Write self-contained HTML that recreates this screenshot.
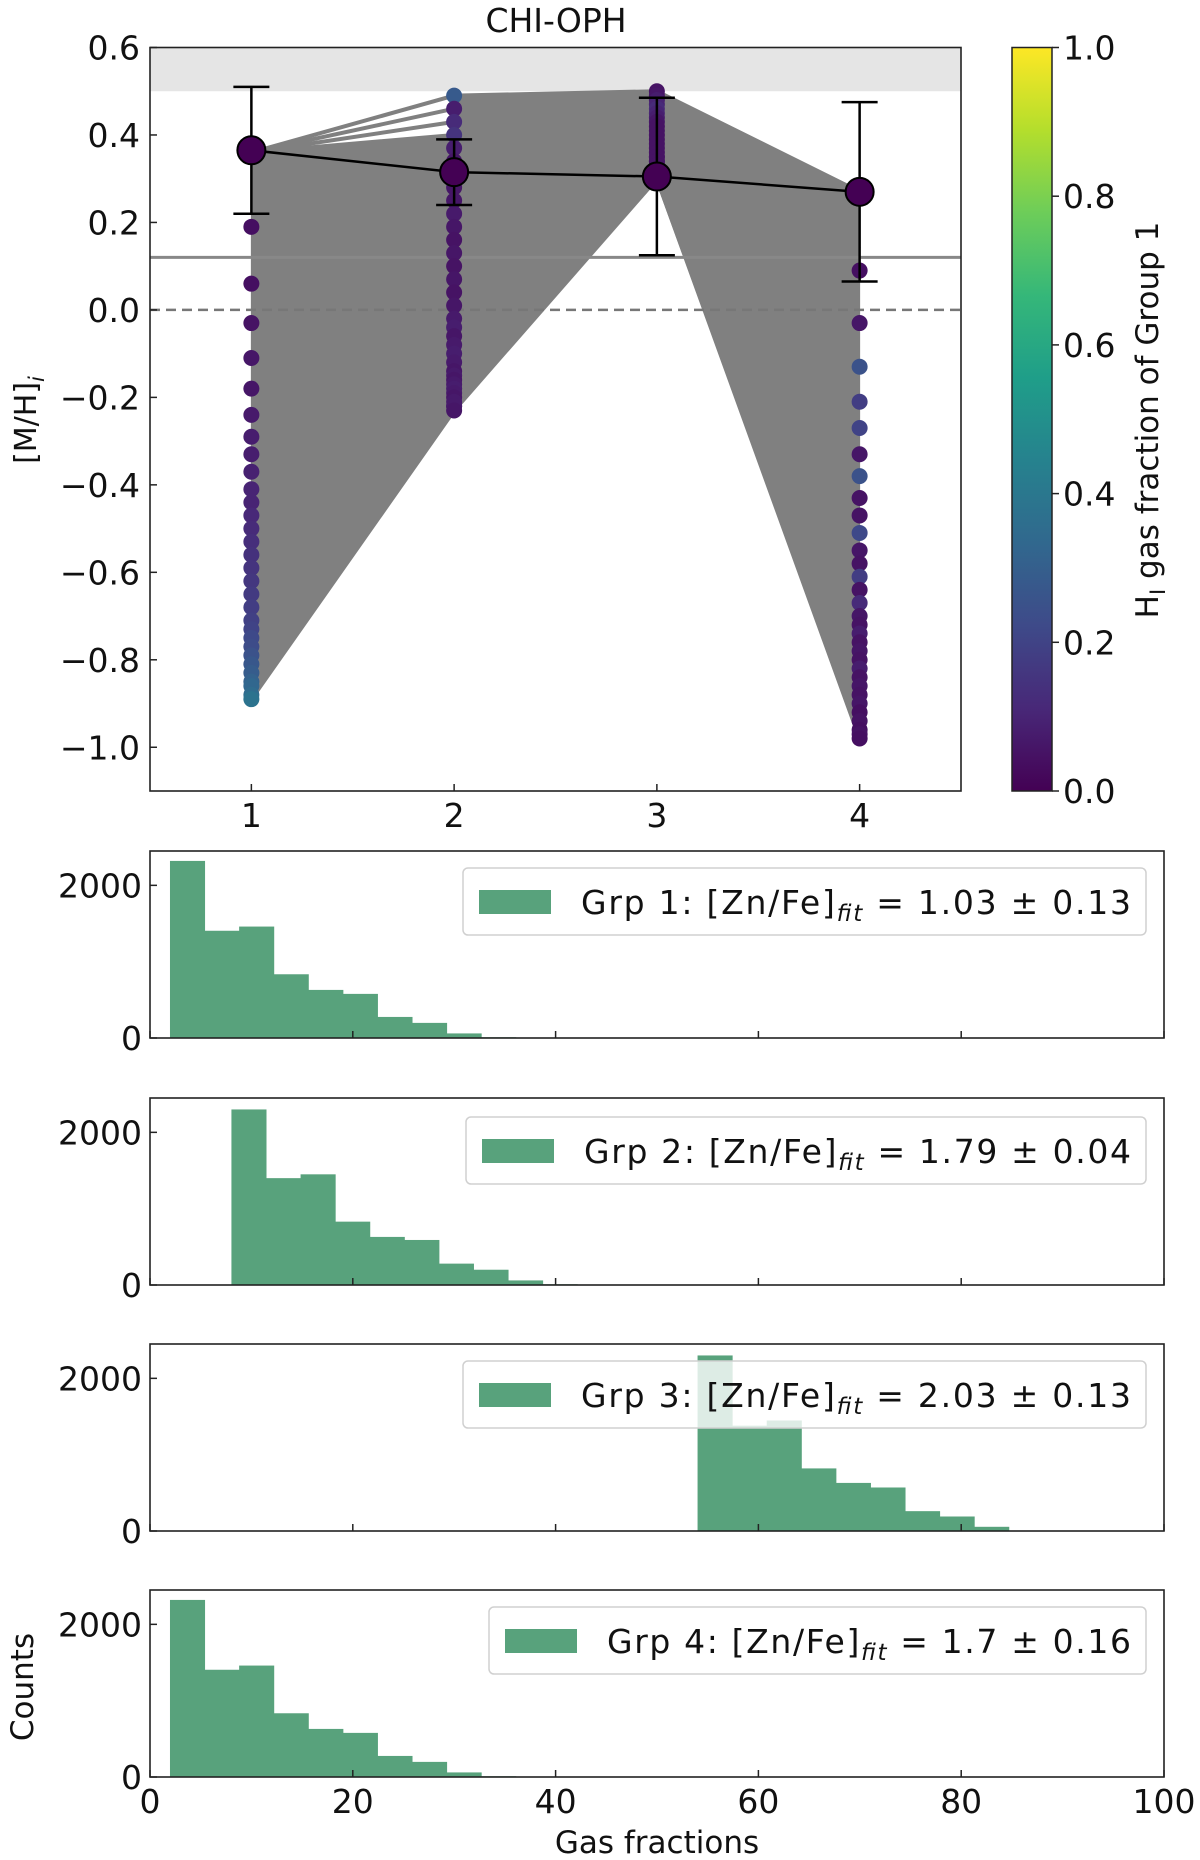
<!DOCTYPE html>
<html><head><meta charset="utf-8"><style>
html,body{margin:0;padding:0;background:#fff;}
svg{display:block;font-family:"DejaVu Sans","Liberation Sans",sans-serif;}
</style></head><body>
<svg id="fig" width="1200" height="1860" viewBox="0 0 1200 1860" xmlns="http://www.w3.org/2000/svg">
<g id="topPanel"></g>
<g id="cbar"></g>
<g id="hists"></g>
</svg>
<script>
// ---- top panel data ----
const col1Vals = [0.36,0.36,0.36,0.36,0.19,0.06,-0.03,-0.11,-0.18,-0.24,-0.29,-0.33,-0.37,-0.41,-0.44,-0.47,-0.50,-0.53,-0.56,-0.59,-0.62,-0.65,-0.68,-0.71,-0.73,-0.75,-0.77,-0.79,-0.81,-0.83,-0.85,-0.86,-0.88,-0.89];
const col2Vals = [0.49,0.46,0.43,0.40,0.37,0.34,0.31,0.28,0.25,0.22,0.19,0.16,0.13,0.10,0.07,0.04,0.01,-0.02,-0.04,-0.06,-0.08,-0.10,-0.12,-0.14,-0.15,-0.16,-0.17,-0.18,-0.19,-0.20,-0.21,-0.22,-0.22,-0.23];
const col3Vals = [0.50,0.49,0.48,0.47,0.46,0.45,0.44,0.43,0.42,0.41,0.40,0.39,0.38,0.37,0.36,0.35,0.35,0.34,0.34,0.33,0.33,0.33,0.32,0.32,0.32,0.31,0.31,0.31,0.31,0.30,0.30,0.30,0.30,0.30];
const col4Vals = [0.27,0.20,0.14,0.09,-0.03,-0.13,-0.21,-0.27,-0.33,-0.38,-0.43,-0.47,-0.51,-0.55,-0.58,-0.61,-0.64,-0.67,-0.70,-0.72,-0.74,-0.76,-0.78,-0.80,-0.82,-0.84,-0.86,-0.88,-0.90,-0.92,-0.94,-0.96,-0.97,-0.98];
const col1Frac = [0.05,0.05,0.05,0.05,0.04,0.04,0.05,0.06,0.06,0.07,0.08,0.08,0.09,0.10,0.10,0.11,0.12,0.13,0.14,0.15,0.16,0.17,0.18,0.19,0.20,0.22,0.23,0.25,0.27,0.29,0.31,0.33,0.35,0.38];
const col2Frac = [0.28,0.08,0.12,0.15,0.08,0.06,0.07,0.06,0.06,0.07,0.06,0.05,0.06,0.05,0.06,0.05,0.06,0.07,0.08,0.06,0.07,0.08,0.07,0.06,0.07,0.06,0.07,0.08,0.07,0.06,0.07,0.08,0.07,0.06];
const col3Frac = [0.05,0.06,0.08,0.10,0.12,0.10,0.08,0.06,0.05,0.05,0.05,0.05,0.05,0.05,0.05,0.05,0.05,0.05,0.05,0.05,0.05,0.05,0.05,0.05,0.05,0.05,0.05,0.05,0.05,0.05,0.05,0.05,0.05,0.05];
const col4Frac = [0.04,0.04,0.04,0.04,0.06,0.25,0.18,0.2,0.06,0.25,0.05,0.05,0.22,0.06,0.05,0.18,0.05,0.12,0.06,0.05,0.08,0.05,0.06,0.05,0.08,0.05,0.06,0.05,0.06,0.04,0.05,0.04,0.05,0.04];
const meanX = [1,2,3,4];
const meanY = [0.365,0.315,0.305,0.27];
const errLo = [0.22,0.24,0.125,0.065];
const errHi = [0.51,0.39,0.485,0.475];
const yTicks = [0.6,0.4,0.2,0.0,-0.2,-0.4,-0.6,-0.8,-1.0];
const xTicks = [1,2,3,4];
const cbTicks = [0.0,0.2,0.4,0.6,0.8,1.0];
// ---- histogram data ----
const binWidth = 3.41;
const grpStart = [1.97,8.03,54.0,1.97];
const grp1Counts = [2320,1405,1460,835,630,578,276,198,60,10];
const grp2Counts = [2300,1400,1450,830,630,590,280,200,60,10];
const grp3Counts = [2300,1380,1448,820,630,570,260,190,55];
const grp4Counts = [2320,1405,1460,835,630,578,276,198,60,10];
const grpLabels = ["Grp 1:","Grp 2:","Grp 3:","Grp 4:"];
const grpFit = ["= 1.03 ± 0.13","= 1.79 ± 0.04","= 2.03 ± 0.13","= 1.7 ± 0.16"];
const histXTicks = [0,20,40,60,80,100];
const histYTicks = [0,2000];

const NS="http://www.w3.org/2000/svg";
function mk(tag,attrs,parent){const e=document.createElementNS(NS,tag);for(const k in attrs)e.setAttribute(k,attrs[k]);parent.appendChild(e);return e;}
const viridis=[[68,1,84],[72,40,120],[62,74,137],[49,104,142],[38,130,142],[31,158,137],[53,183,121],[109,205,89],[180,222,44],[253,231,37]];
function vcol(t){t=Math.max(0,Math.min(1,t))*9;const i=Math.min(8,Math.floor(t)),f=t-i;const a=viridis[i],b=viridis[i+1];return `rgb(${Math.round(a[0]+(b[0]-a[0])*f)},${Math.round(a[1]+(b[1]-a[1])*f)},${Math.round(a[2]+(b[2]-a[2])*f)})`;}

// top axes
const L=150,R=961,T=47.5,B=791;
const X=v=>L+(v-0.5)/4*(R-L);
const Y=v=>T+(0.6-v)/1.7*(B-T);
const topG=document.getElementById('topPanel');
let e;
e=mk('rect',{x:L,y:Y(0.6),width:R-L,height:Y(0.5)-Y(0.6),fill:'#e5e5e5'},topG);

const cols=[col1Vals,col2Vals,col3Vals,col4Vals];
const fracs=[col1Frac,col2Frac,col3Frac,col4Frac];
const lines=mk('g',{},topG);

for(let j=0;j<3;j++){
  const start=(j===0)?3:0;
  for(let i=start;i<col1Vals.length-1;i++){
    const pts=[[X(j+1),Y(cols[j][i])],[X(j+2),Y(cols[j+1][i])],[X(j+2),Y(cols[j+1][i+1])],[X(j+1),Y(cols[j][i+1])]].map(p=>p.join(',')).join(' ');
    e=mk('polygon',{points:pts,fill:'#808080',stroke:'#808080','stroke-width':1},lines);
    
  }
}
for(let i=0;i<col1Vals.length;i++){
  const pts=cols.map((c,j)=>X(j+1)+','+Y(c[i])).join(' ');
  e=mk('polyline',{points:pts,fill:'none',stroke:'#808080','stroke-width':4,'stroke-linejoin':'round'},lines);
  
}
e=mk('line',{x1:L,x2:R,y1:Y(0.12),y2:Y(0.12),stroke:'#888','stroke-width':3},topG);

e=mk('line',{x1:L,x2:R,y1:Y(0),y2:Y(0),stroke:'#777','stroke-width':2.5,'stroke-dasharray':'10,6'},topG);

const dots=mk('g',{},topG);

for(let j=0;j<4;j++){for(let i=0;i<cols[j].length;i++){
  if(j===3 && i<3) continue;
  e=mk('circle',{cx:X(j+1),cy:Y(cols[j][i]),r:8,fill:vcol(fracs[j][i])},dots);
  
}}
for(let k=0;k<meanX.length;k++){
  const x=X(meanX[k]);
  e=mk('line',{x1:x,x2:x,y1:Y(errHi[k]),y2:Y(errLo[k]),stroke:'#000','stroke-width':2.5},topG);
  
  for(const v of [errHi[k],errLo[k]]){e=mk('line',{x1:x-18,x2:x+18,y1:Y(v),y2:Y(v),stroke:'#000','stroke-width':2.5},topG);
  }
}
e=mk('polyline',{points:meanX.map((v,k)=>X(v)+','+Y(meanY[k])).join(' '),fill:'none',stroke:'#000','stroke-width':2.5},topG);

for(let k=0;k<meanX.length;k++){
  e=mk('circle',{cx:X(meanX[k]),cy:Y(meanY[k]),r:14,fill:'#440154',stroke:'#000','stroke-width':2},topG);
  
}
e=mk('rect',{x:L,y:T,width:R-L,height:B-T,fill:'none',stroke:'#222','stroke-width':1.6},topG);

for(const v of yTicks){
  e=mk('line',{x1:L,x2:L+7,y1:Y(v),y2:Y(v),stroke:'#222','stroke-width':1.5},topG);
  
  e=mk('text',{x:L-10,y:Y(v)+12,'text-anchor':'end','font-size':33,fill:'#111'},topG);
  e.textContent=(v<0?'\u2212':'')+Math.abs(v).toFixed(1);
  
}
for(const v of xTicks){
  e=mk('line',{x1:X(v),x2:X(v),y1:B,y2:B-7,stroke:'#222','stroke-width':1.5},topG);
  
  e=mk('text',{x:X(v),y:B+36,'text-anchor':'middle','font-size':33,fill:'#111'},topG);
  e.textContent=v;
  
}
e=mk('text',{x:556,y:32,'text-anchor':'middle','font-size':33,fill:'#111'},topG);
e.textContent='CHI-OPH';
e=mk('text',{x:0,y:0,transform:'translate(36,420) rotate(-90)','text-anchor':'middle','font-size':30,fill:'#111'},topG);
e.innerHTML='[M/H]<tspan font-size="21" font-style="italic" dy="8">i</tspan>';


// colorbar
const cb=document.getElementById('cbar');
const defs=mk('defs',{},cb);
const grad=mk('linearGradient',{id:'vg',x1:0,y1:1,x2:0,y2:0},defs);
for(let i=0;i<=9;i++){mk('stop',{offset:i/9,'stop-color':vcol(i/9)},grad);}
const CL=1012,CR=1052;
e=mk('rect',{x:CL,y:T,width:CR-CL,height:B-T,fill:'url(#vg)',stroke:'#222','stroke-width':1.5},cb);

const CY=v=>B-v*(B-T);
for(const v of cbTicks){
  e=mk('line',{x1:CR,x2:CR+7,y1:CY(v),y2:CY(v),stroke:'#222','stroke-width':1.5},cb);
  
  e=mk('text',{x:CR+11,y:CY(v)+12,'font-size':33,fill:'#111'},cb);
  e.textContent=v.toFixed(1);
  
}
e=mk('text',{x:0,y:0,transform:'translate(1158,420) rotate(-90)','text-anchor':'middle','font-size':31,fill:'#111'},cb);
e.innerHTML='H<tspan font-size="21" dy="7">I</tspan><tspan dy="-7"> gas fraction of Group 1</tspan>';


// histograms
const hg=document.getElementById('hists');
const HL=150,HR=1164,PH=187;
const panelTops=[851,1098,1344,1590];
const allCounts=[grp1Counts,grp2Counts,grp3Counts,grp4Counts];
const legendBox=[[463,17],[466,19],[463,17],[489,17]];
const HX=v=>HL+v/100*(HR-HL);
for(let p=0;p<4;p++){
  const t=panelTops[p];
  const HY=c=>t+PH-c/2450*PH;
  const g=mk('g',{},hg);
  
  const cnt=allCounts[p];
  for(let i=0;i<cnt.length;i++){
    const x0=HX(grpStart[p]+i*binWidth),x1=HX(grpStart[p]+(i+1)*binWidth);
    e=mk('rect',{x:x0,y:HY(cnt[i]),width:x1-x0+0.5,height:HY(0)-HY(cnt[i]),fill:'#58a27c'},g);
    
  }
  e=mk('rect',{x:HL,y:t,width:HR-HL,height:PH,fill:'none',stroke:'#222','stroke-width':1.6},g);
  
  for(const v of histXTicks){
    e=mk('line',{x1:HX(v),x2:HX(v),y1:t+PH,y2:t+PH-7,stroke:'#222','stroke-width':1.5},g);
    
    if(p===3){e=mk('text',{x:HX(v),y:t+PH+36,'text-anchor':'middle','font-size':33,fill:'#111'},g);
      e.textContent=v;}
  }
  for(const v of histYTicks){
    e=mk('line',{x1:HL,x2:HL+7,y1:HY(v),y2:HY(v),stroke:'#222','stroke-width':1.5},g);
    
    e=mk('text',{x:HL-8,y:HY(v)+12,'text-anchor':'end','font-size':33,fill:'#111'},g);
    e.textContent=v;
  }
  const bx=legendBox[p][0],by=t+legendBox[p][1];
  const lg=mk('g',{},g);
  
  e=mk('rect',{x:bx,y:by,width:1146-bx,height:67,rx:5,fill:'rgba(255,255,255,0.8)',stroke:'#d0d0d0','stroke-width':1.5},lg);
  
  e=mk('rect',{x:bx+16,y:by+22,width:72,height:24,fill:'#58a27c'},lg);
  
  e=mk('text',{x:bx+118,y:by+46,'font-size':33,fill:'#111'},lg);
  e.innerHTML=grpLabels[p]+' [Zn/Fe]<tspan font-size="23" font-style="italic" dy="7">fit</tspan><tspan dy="-7"> '+grpFit[p]+'</tspan>';
  e.setAttribute('textLength',String(1146-bx-118-15));
  
}
e=mk('text',{x:0,y:0,transform:'translate(33,1687) rotate(-90)','text-anchor':'middle','font-size':31,fill:'#111'},hg);
e.textContent='Counts';
e=mk('text',{x:657,y:1853,'text-anchor':'middle','font-size':31,fill:'#111'},hg);
e.textContent='Gas fractions';
</script>
</body></html>
